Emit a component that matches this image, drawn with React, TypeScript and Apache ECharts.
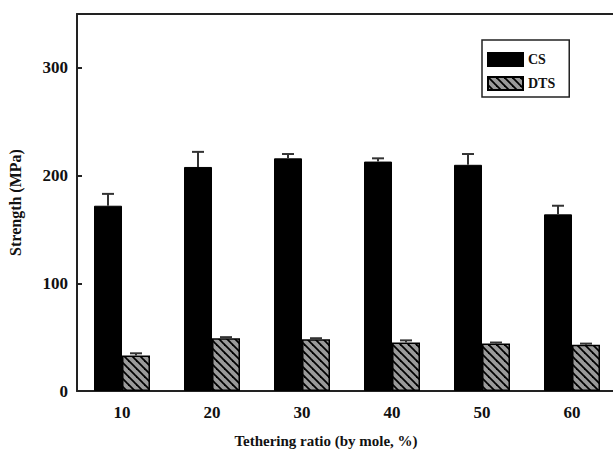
import React, { useEffect, useRef } from "react";
import * as echarts from "echarts";

const categories = ["10", "20", "30", "40", "50", "60"];
const csValues = [172, 208, 216, 213, 210, 164];
const csErrors = [11, 14, 4, 3, 10, 8];
const dtsValues = [33, 49, 48, 45, 44, 43];
const dtsErrors = [2, 1, 1, 2, 1, 1];
const yTicks = { min: 0, max: 350, interval: 100 };

const FONT = "'Liberation Serif', 'DejaVu Serif', serif";
const BAR_W = 28;

function makeHatch(): HTMLCanvasElement {
  const s = 8;
  const c = document.createElement("canvas");
  c.width = s;
  c.height = s;
  const ctx = c.getContext("2d")!;
  ctx.fillStyle = "#9a9a9a";
  ctx.fillRect(0, 0, s, s);
  ctx.strokeStyle = "#000";
  ctx.lineWidth = 1.8;
  for (let k = -1; k <= 1; k++) {
    ctx.beginPath();
    ctx.moveTo(-1, k * s - 1);
    ctx.lineTo(s + 1, s + k * s + 1);
    ctx.stroke();
  }
  return c;
}

export default function App() {
  const ref = useRef<HTMLDivElement>(null);
  useEffect(() => {
    const chart = echarts.init(ref.current!, null, { renderer: "svg" });
    const hatch = makeHatch();
    const errData = (vals: number[], errs: number[]) =>
      vals.map((v, i) => [i, v, errs[i]]);
    const errSeries = (name: string, vals: number[], errs: number[], offset: number) => ({
      type: "custom",
      name: name + "err",
      data: errData(vals, errs),
      encode: { x: 0, y: 1 },
      z: 5,
      silent: true,
      renderItem: (params: any, api: any) => {
        const i = api.value(0);
        const v = api.value(1);
        const e = api.value(2);
        const p = api.coord([i, v]);
        const t = api.coord([i, v + e]);
        const x = p[0] + offset;
        const style = { stroke: "#333", lineWidth: 2 };
        return {
          type: "group",
          children: [
            { type: "line", shape: { x1: x, y1: p[1], x2: x, y2: t[1] }, style },
            { type: "line", shape: { x1: x - 6, y1: t[1], x2: x + 6, y2: t[1] }, style },
          ],
        };
      },
    });
    chart.setOption({
      animation: false,
      grid: {
        left: 77,
        top: 14,
        width: 540,
        height: 377,
        outerBoundsMode: "none",
        show: false,
      },
      legend: {
        left: 482,
        top: 40,
        orient: "vertical",
        data: ["CS", "DTS"],
        icon: "rect",
        borderColor: "#222",
        borderWidth: 1.5,
        padding: [12, 14, 6, 5],
        itemWidth: 35,
        itemHeight: 13,
        itemGap: 9,
        textStyle: { fontFamily: FONT, fontWeight: "bold", fontSize: 14, color: "#111" },
      },
      xAxis: [
        {
          type: "category",
          data: categories,
          axisLine: { lineStyle: { color: "#222", width: 2 } },
          axisTick: { show: false },
          splitLine: { show: false },
          axisLabel: { fontFamily: FONT, fontWeight: "bold", fontSize: 17, color: "#111", margin: 13 },
        },
        {
          type: "category",
          data: categories,
          position: "top",
          axisLine: { show: true, lineStyle: { color: "#222", width: 2 } },
          axisTick: { show: false },
          splitLine: { show: false },
          axisLabel: { show: false },
        },
      ],
      yAxis: {
        type: "value",
        min: yTicks.min,
        max: yTicks.max,
        interval: yTicks.interval,
        name: "Strength (MPa)",
        nameLocation: "middle",
        nameGap: 54,
        nameTextStyle: { fontFamily: FONT, fontWeight: "bold", fontSize: 16, color: "#111" },
        axisLine: { show: true, lineStyle: { color: "#222", width: 2 } },
        axisTick: { show: true, inside: true, length: 5, lineStyle: { color: "#222", width: 2 } },
        axisLabel: {
          fontFamily: FONT,
          fontWeight: "bold",
          fontSize: 17,
          color: "#111",
          margin: 9,
          showMaxLabel: false,
        },
        splitLine: { show: false },
      },
      graphic: [
        {
          type: "rect",
          z: 100,
          shape: { x: 596, y: 16, width: 20, height: 326 },
          style: { fill: "#fff" },
          silent: true,
        },
        {
          type: "rect",
          z: 100,
          shape: { x: 601, y: 341, width: 14, height: 48 },
          style: { fill: "#fff" },
          silent: true,
        },
        {
          type: "text",
          x: 326,
          y: 441,
          style: {
            text: "Tethering ratio (by mole, %)",
            fontFamily: FONT,
            fontWeight: "bold",
            fontSize: 15,
            fill: "#111",
            align: "center",
            verticalAlign: "middle",
          },
        },
      ],
      series: [
        {
          type: "bar",
          name: "CS",
          data: csValues,
          barWidth: BAR_W,
          barGap: "0%",
          itemStyle: { color: "#000", borderColor: "#000", borderWidth: 1 },
        },
        {
          type: "bar",
          name: "DTS",
          data: dtsValues,
          barWidth: BAR_W,
          barGap: "0%",
          itemStyle: {
            color: { image: hatch, repeat: "repeat" },
            borderColor: "#000",
            borderWidth: 1.5,
          },
        },
        errSeries("CS", csValues, csErrors, -BAR_W / 2),
        errSeries("DTS", dtsValues, dtsErrors, BAR_W / 2),
      ],
    });
    return () => chart.dispose();
  }, []);
  return (
    <div
      ref={ref}
      style={{ position: "fixed", left: 0, top: 0, width: 613, height: 453, background: "#fff" }}
    />
  );
}
